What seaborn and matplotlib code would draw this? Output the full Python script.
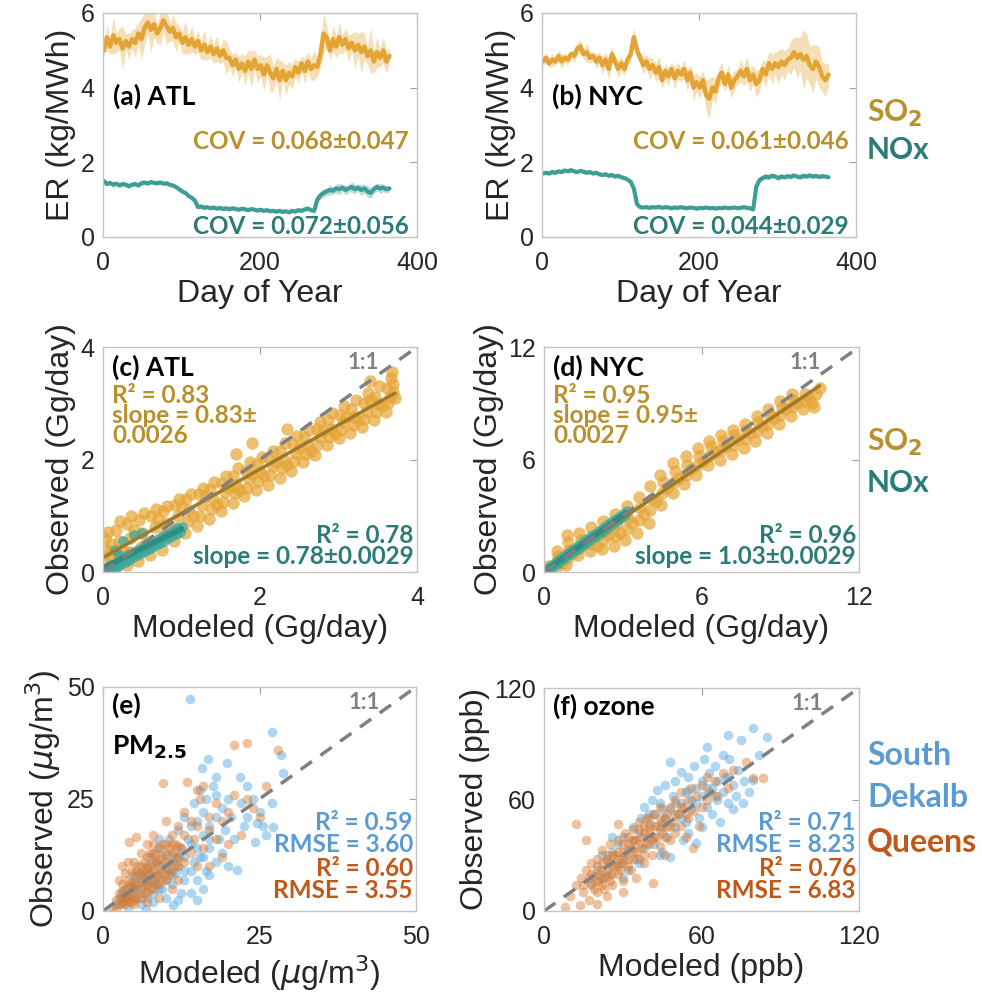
import numpy as np
import pandas as pd
import matplotlib
matplotlib.use("Agg")
import matplotlib.pyplot as plt
import seaborn as sns

# ---------------- data ----------------
atl_so2 = [5.00,5.35,5.10,5.40,5.20,5.30,5.05,5.25,5.10,5.30,
           5.20,5.45,5.30,5.60,5.75,5.55,5.70,5.45,5.60,5.80,
           5.65,5.50,5.60,5.35,5.45,5.20,5.35,5.15,5.30,5.10,
           5.25,5.00,5.15,4.95,5.10,4.90,5.05,4.85,5.00,4.80,
           4.80,4.60,4.75,4.50,4.65,4.45,4.70,4.50,4.75,4.50,
           4.60,4.35,4.60,4.40,4.25,4.50,4.20,4.45,4.20,4.40,
           4.30,4.55,4.40,4.65,4.45,4.70,4.50,4.60,4.55,4.90,
           5.45,5.35,5.00,5.30,5.10,5.35,5.15,5.30,5.05,5.20,
           5.00,5.15,4.95,5.10,4.85,5.00,4.70,4.95,4.80,5.00,
           4.70,4.85]
atl_so2_spread = [0.15,0.35,0.20,0.50,0.25,0.30,0.60,0.20,0.35,0.25,
                  0.40,0.30,0.55,0.45,0.30,0.60,0.35,0.25,0.45,0.30,
                  0.50,0.25,0.35,0.40,0.20,0.30,0.45,0.25,0.35,0.20,
                  0.30,0.25,0.40,0.20,0.30,0.25,0.35,0.20,0.30,0.45,
                  0.25,0.30,0.20,0.35,0.25,0.40,0.30,0.50,0.25,0.35,
                  0.30,0.45,0.25,0.50,0.35,0.30,0.55,0.25,0.40,0.30,
                  0.35,0.25,0.30,0.20,0.35,0.25,0.30,0.40,0.25,0.35,
                  0.55,0.30,0.25,0.35,0.30,0.40,0.25,0.30,0.35,0.25,
                  0.50,0.30,0.55,0.35,0.25,0.60,0.30,0.40,0.25,0.35,
                  0.30,0.20]
atl_nox = [1.50,1.42,1.45,1.40,1.43,1.38,1.42,1.40,1.36,1.40,
           1.42,1.38,1.44,1.46,1.43,1.47,1.45,1.44,1.46,1.43,
           1.44,1.40,1.38,1.34,1.28,1.22,1.18,1.10,1.05,0.98,
           0.80,0.82,0.78,0.80,0.77,0.79,0.76,0.78,0.75,0.77,
           0.74,0.77,0.75,0.73,0.76,0.74,0.72,0.75,0.73,0.71,
           0.73,0.70,0.72,0.69,0.70,0.68,0.70,0.67,0.69,0.66,
           0.70,0.68,0.72,0.70,0.74,0.76,0.72,0.70,1.00,1.12,
           1.18,1.22,1.26,1.24,1.30,1.28,1.32,1.26,1.30,1.34,
           1.28,1.32,1.26,1.30,1.22,1.18,1.28,1.34,1.30,1.32,
           1.28,1.30]
atl_nox_spread = [0.04,0.05,0.04,0.06,0.04,0.05,0.04,0.05,0.06,0.04,
                  0.05,0.04,0.06,0.05,0.04,0.05,0.04,0.06,0.05,0.04,
                  0.05,0.04,0.05,0.06,0.05,0.06,0.05,0.06,0.07,0.06,
                  0.04,0.05,0.04,0.04,0.05,0.04,0.04,0.05,0.04,0.04,
                  0.04,0.05,0.04,0.04,0.05,0.04,0.04,0.05,0.04,0.04,
                  0.04,0.05,0.04,0.04,0.05,0.04,0.04,0.05,0.04,0.04,
                  0.04,0.05,0.04,0.05,0.04,0.05,0.04,0.05,0.08,0.10,
                  0.12,0.10,0.14,0.10,0.12,0.15,0.10,0.13,0.10,0.14,
                  0.12,0.10,0.15,0.12,0.16,0.14,0.12,0.10,0.13,0.11,
                  0.10,0.08]
nyc_so2 = [4.70,4.80,4.65,4.75,4.70,4.85,4.70,4.80,4.75,4.90,
           4.85,5.05,5.10,4.90,4.95,4.80,4.85,4.70,4.80,4.60,
           4.75,4.50,4.90,4.70,4.50,4.65,4.50,4.75,4.90,5.35,
           5.00,4.80,4.60,4.70,4.50,4.60,4.40,4.55,4.20,4.45,
           4.30,4.50,4.25,4.45,4.35,4.50,4.20,4.40,4.00,4.15,
           4.00,4.20,3.80,3.70,4.00,3.90,4.25,4.40,4.10,4.35,
           4.00,4.20,4.30,4.45,4.30,4.50,4.20,4.35,4.10,4.20,
           4.50,4.35,4.65,4.50,4.65,4.55,4.70,4.60,4.75,4.80,
           4.95,4.80,4.90,4.75,4.85,4.60,4.50,4.70,4.55,4.30,
           4.20,4.35]
nyc_so2_spread = [0.10,0.15,0.12,0.18,0.10,0.15,0.20,0.12,0.15,0.10,
                  0.18,0.15,0.20,0.12,0.25,0.15,0.12,0.20,0.15,0.25,
                  0.18,0.30,0.20,0.15,0.25,0.20,0.18,0.15,0.22,0.25,
                  0.20,0.15,0.25,0.18,0.30,0.20,0.25,0.30,0.22,0.20,
                  0.25,0.18,0.30,0.22,0.20,0.25,0.30,0.20,0.35,0.25,
                  0.30,0.25,0.40,0.55,0.30,0.35,0.25,0.30,0.20,0.25,
                  0.30,0.25,0.20,0.30,0.25,0.35,0.30,0.25,0.35,0.30,
                  0.25,0.35,0.30,0.40,0.30,0.45,0.35,0.40,0.30,0.45,
                  0.40,0.55,0.45,0.80,0.60,0.50,0.65,0.45,0.55,0.40,
                  0.45,0.30]
nyc_nox = [1.70,1.72,1.70,1.74,1.72,1.76,1.74,1.78,1.76,1.79,
           1.76,1.74,1.77,1.75,1.72,1.74,1.70,1.72,1.68,1.66,
           1.68,1.64,1.66,1.62,1.64,1.60,1.58,1.54,1.48,1.30,
           0.88,0.80,0.79,0.80,0.78,0.80,0.79,0.81,0.78,0.80,
           0.79,0.77,0.79,0.78,0.80,0.78,0.77,0.79,0.78,0.76,
           0.78,0.77,0.79,0.77,0.78,0.76,0.78,0.77,0.79,0.77,
           0.78,0.79,0.77,0.78,0.80,0.78,0.77,0.74,1.35,1.52,
           1.58,1.62,1.60,1.64,1.62,1.58,1.62,1.60,1.63,1.61,
           1.65,1.62,1.60,1.64,1.62,1.65,1.62,1.64,1.61,1.63,
           1.62,1.60]
nyc_nox_spread = [0.04,0.05,0.04,0.04,0.05,0.04,0.05,0.04,0.05,0.04,
                  0.04,0.05,0.04,0.05,0.04,0.04,0.05,0.04,0.05,0.04,
                  0.04,0.05,0.04,0.05,0.04,0.05,0.04,0.05,0.06,0.08,
                  0.04,0.03,0.03,0.03,0.03,0.03,0.03,0.03,0.03,0.03,
                  0.03,0.03,0.03,0.03,0.03,0.03,0.03,0.03,0.03,0.03,
                  0.03,0.03,0.03,0.03,0.03,0.03,0.03,0.03,0.03,0.03,
                  0.03,0.03,0.03,0.03,0.03,0.03,0.03,0.04,0.08,0.07,
                  0.06,0.08,0.06,0.07,0.05,0.07,0.06,0.05,0.07,0.06,
                  0.05,0.06,0.05,0.07,0.05,0.06,0.05,0.06,0.05,0.06,
                  0.05,0.04]

# panel (c) ATL daily emissions (modeled, observed), Gg/day
atl_so2_pts = [(0.02,0.02),(0.03,0.2),(0.05,0.4),(0.02,0.6),(0.06,0.72),(0.1,0.1),(0.1,0.5),
    (0.15,0.08),(0.18,0.3),(0.2,0.55),(0.16,0.75),(0.22,0.9),
    (0.3,0.12),(0.33,0.35),(0.35,0.6),(0.31,0.85),(0.36,1.0),
    (0.45,0.2),(0.48,0.45),(0.5,0.7),(0.46,0.92),(0.52,1.05),
    (0.6,0.3),(0.63,0.55),(0.66,0.8),(0.61,1.0),(0.67,1.12),
    (0.75,0.4),(0.78,0.65),(0.8,0.88),(0.76,1.08),(0.82,1.18),
    (0.9,0.55),(0.93,0.78),(0.96,1.0),(0.92,1.2),(0.97,1.3),
    (1.05,0.7),(1.08,0.9),(1.1,1.1),(1.06,1.3),(1.12,1.38),
    (1.2,0.82),(1.23,1.0),(1.26,1.2),(1.22,1.38),(1.27,1.5),
    (1.35,0.95),(1.38,1.12),(1.4,1.3),(1.36,1.48),(1.42,1.6),
    (1.5,1.08),(1.53,1.25),(1.56,1.42),(1.52,1.58),(1.57,1.7),
    (1.65,1.22),(1.68,1.4),(1.7,1.55),(1.66,1.7),(1.72,1.85),
    (1.8,1.35),(1.83,1.5),(1.86,1.65),(1.82,1.8),(1.87,1.95),
    (1.95,1.45),(1.98,1.62),(2.0,1.78),(1.96,1.92),(2.02,2.05),
    (2.1,1.55),(2.13,1.72),(2.16,1.88),(2.12,2.02),(2.17,2.15),
    (2.25,1.68),(2.28,1.85),(2.3,2.0),(2.26,2.15),(2.32,2.3),
    (2.4,1.8),(2.43,1.98),(2.46,2.12),(2.42,2.28),(2.47,2.42),
    (2.55,1.95),(2.58,2.1),(2.6,2.25),(2.56,2.4),(2.62,2.52),
    (2.7,2.08),(2.73,2.25),(2.76,2.4),(2.72,2.55),(2.77,2.66),
    (2.85,2.25),(2.88,2.4),(2.9,2.55),(2.86,2.7),(2.92,2.82),
    (3.0,2.38),(3.03,2.52),(3.06,2.66),(3.02,2.8),(3.07,2.95),
    (3.15,2.48),(3.18,2.62),(3.2,2.76),(3.16,2.9),(3.22,3.05),
    (3.3,2.58),(3.33,2.72),(3.36,2.86),(3.32,3.0),(3.37,3.18),
    (3.45,2.7),(3.48,2.85),(3.5,2.98),(3.46,3.12),(3.52,3.3),
    (3.6,2.85),(3.63,3.0),(3.66,3.12),(3.62,3.28),(3.67,3.45),
    (3.72,3.1),(3.7,3.35),(3.68,3.55),(1.9,2.3),(1.7,2.1),(2.35,2.55),(3.4,3.4),
    (0.08,0.3),(0.25,0.4),(0.4,0.75),(0.55,0.5),(0.7,0.95),(0.85,0.7),(1.0,1.15),
    (1.15,1.0),(1.3,1.35),(1.45,1.2),(1.6,1.5),(1.75,1.45),(1.9,1.75),(2.05,1.7),
    (2.2,1.95),(2.35,1.9),(2.5,2.2),(2.65,2.15),(2.8,2.5),(2.95,2.45),(3.1,2.75),
    (3.25,2.7),(3.4,3.05),(3.55,2.95),(3.7,3.2)]
atl_nox_pts = [(0.02,0.02),(0.05,0.08),(0.08,0.03),(0.1,0.12),(0.12,0.06),(0.15,0.15),
    (0.18,0.1),(0.2,0.2),(0.22,0.13),(0.25,0.25),(0.28,0.18),(0.3,0.28),(0.33,0.22),
    (0.35,0.32),(0.38,0.26),(0.4,0.35),(0.43,0.3),(0.45,0.4),(0.48,0.33),(0.5,0.43),
    (0.53,0.37),(0.55,0.47),(0.58,0.41),(0.6,0.5),(0.63,0.45),(0.65,0.54),(0.68,0.48),
    (0.7,0.58),(0.73,0.52),(0.75,0.62),(0.78,0.56),(0.8,0.66),(0.83,0.6),(0.85,0.7),
    (0.88,0.64),(0.9,0.74),(0.93,0.68),(0.95,0.78),(0.98,0.72),(1.0,0.8),
    (0.15,0.4),(0.25,0.55),(0.4,0.65),(0.5,0.7),(0.2,0.3)]
# panel (d) NYC
nyc_so2_pts = [(0.1,0.05),(0.15,0.3),(0.2,0.15),
    (0.45,0.2),(0.5,0.55),(0.55,0.85),(0.5,1.1),
    (0.85,0.35),(0.9,0.75),(0.95,1.2),(0.9,1.6),(0.88,2.0),
    (1.3,0.9),(1.35,1.3),(1.4,1.7),(1.35,2.1),
    (1.75,1.1),(1.8,1.5),(1.85,1.9),(1.8,2.4),
    (2.2,1.25),(2.25,1.7),(2.3,2.2),(2.25,2.7),
    (2.65,1.4),(2.7,1.9),(2.75,2.5),(2.7,3.1),
    (3.1,1.7),(3.15,2.3),(3.2,2.9),(3.15,3.5),
    (3.55,2.1),(3.6,2.8),(3.65,3.4),(3.6,4.0),
    (4.0,2.6),(4.05,3.3),(4.1,3.9),(4.05,4.6),
    (4.45,3.6),(4.5,4.2),(4.55,4.8),(4.4,5.2),
    (4.9,4.2),(4.95,4.8),(5.0,5.4),(4.9,5.8),
    (5.35,4.7),(5.4,5.2),(5.45,5.7),(5.4,6.2),
    (5.8,5.2),(5.85,5.7),(5.9,6.2),(5.85,6.6),
    (6.25,5.7),(6.3,6.2),(6.35,6.7),(6.3,7.0),
    (6.7,6.0),(6.75,6.5),(6.8,7.0),(6.75,7.3),
    (7.15,6.3),(7.2,6.8),(7.25,7.3),(7.2,7.6),
    (7.6,6.6),(7.65,7.1),(7.7,7.6),(7.65,7.9),
    (8.05,7.0),(8.1,7.5),(8.15,8.0),(8.1,8.3),
    (8.5,7.4),(8.55,7.9),(8.6,8.4),(8.55,8.7),
    (8.95,7.9),(9.0,8.4),(9.05,8.8),(9.0,9.1),
    (9.4,8.3),(9.45,8.8),(9.5,9.2),(9.45,9.5),
    (9.85,8.7),(9.9,9.1),(9.95,9.5),(10.2,9.0),
    (10.35,9.5),(10.5,9.8),(10.3,8.8),
    (0.7,0.5),(1.1,1.0),(1.55,1.6),(2.0,1.4),(2.45,2.0),(2.9,2.1),(3.35,2.6),
    (3.8,3.1),(4.25,3.8),(4.7,4.5),(5.15,5.0),(5.6,5.5),(6.05,5.9),(6.5,6.4),
    (6.95,6.7),(7.4,7.1),(7.85,7.4),(8.3,7.8),(8.75,8.2),(9.2,8.7),(9.65,9.0),(10.1,9.3)]
nyc_nox_pts = [(0.05,0.05),(0.15,0.2),(0.25,0.2),(0.3,0.4),(0.4,0.35),(0.45,0.55),
    (0.55,0.5),(0.6,0.7),(0.7,0.65),(0.75,0.85),(0.85,0.8),(0.9,1.0),(1.0,0.95),
    (1.05,1.15),(1.15,1.1),(1.2,1.3),(1.3,1.25),(1.35,1.45),(1.45,1.4),(1.5,1.6),
    (1.6,1.55),(1.65,1.75),(1.75,1.7),(1.8,1.9),(1.9,1.85),(1.95,2.05),(2.05,2.0),
    (2.1,2.2),(2.2,2.15),(2.25,2.35),(2.35,2.3),(2.4,2.5),(2.5,2.45),(2.55,2.65),
    (2.65,2.6),(2.7,2.8),(2.8,2.75),(2.85,2.95),(2.95,2.9),(3.0,3.1),(3.1,3.05),(3.15,3.25)]
# panel (e) PM2.5 (modeled, observed), ug/m3
sdk_pm_pts = [(2,1.5),(2.5,3),(3,2),(3,4.5),(3.5,3.5),(4,1),(4,5),(4.5,6.5),(5,3),(5,7.5),
    (5.5,5),(5.5,9),(6,4),(6,6.5),(6.5,8),(6.8,0.5),(7,5.5),(7,10),(7.5,7),(7.5,12),
    (8,4),(8,9),(8.5,6),(8.5,11),(9,8),(9,14),(9.5,5),(9.5,10),(10,7),(10,12.5),
    (10.5,9),(10.5,16),(11,6),(11,11),(11.2,1.3),(11.5,13),(11.5,8.5),(12,10),(12,18),
    (12.5,4),(12.5,14),(13,7),(13,12),(13,21),(13.5,16),(13.9,47.3),(14,9),(14,19),
    (14.5,11),(14.5,24),(15,2.5),(15,14),(15,20),(15.5,12),(15.5,27),(15.8,32),(16,17),
    (16,22),(16.5,9),(16.5,25),(16.8,34),(17,14),(17,19),(17.5,28),(18,11),(18,21),
    (18,26),(18.5,16),(19,23),(19,13),(19.5,18),(19.8,33),(20,25),(20,10),(20.5,21),
    (21,16),(21.4,9.2),(21.9,30),(22,24),(22.5,19),(23,28),(23,21),(24,25),(24.3,15.4),
    (24.6,19.6),(25,22),(25.5,19),(27,24),(27,40),(27.2,18.8),(28.5,34.8),(28.8,30.8),
    (26,17),(18,30),(17,8),(14,4),(10,3),(8,2),(6,1.5),(9,16),(12,2.5),(16,5),
    (3,3),(4,3),(5,5.5),(6,8),(7,3),(8,6.5),(9,5),(10,9.5),(11,8),(12,12),(13,9),
    (14,15),(15,7),(16,12),(17,16)]
qns_pm_pts = [(1.5,1),(2,2.5),(2,0.5),(2.5,4),(3,1.5),(3,3),(3,6),(3.5,2.5),(3.5,5),(4,3.5),
    (4,7),(4.1,15.4),(4.5,2),(4.5,5.5),(4.5,9),(5,4),(5,6.5),(5,11),(5.3,16.5),(5.5,3),
    (5.5,8),(6,5),(6,7),(6,10),(6,13),(6.5,4),(6.5,9),(7,6),(7,8),(7,12),(7,15),(7.5,5),
    (7.5,10),(8,7),(8,9),(8,13),(8,17),(8.5,6),(8.5,11),(9,8),(9,10),(9,14),(9.6,28.5),
    (9.5,7),(9.5,12),(10,9),(10,15),(10,20),(10.5,11),(10.5,8),(11,13),(11,17),(11.5,10),
    (11.5,15),(12,12),(12,19),(12,7),(12.5,14),(13,11),(13,17),(13,22),(13.4,28.8),(14,13),
    (14,20),(14.5,16),(15,10),(15,19),(15.5,25),(16,14),(16,28),(17,18),(17,21),(18,16),
    (18,24),(19,20),(19,12),(20,22),(21,37),(21,26),(22,17),(23,37.5),(23,25),(24,23),
    (25,21),(28,36),(26,28),(20,15),(17,10),(15,27),(11,5),(9,3),(7,2),(5,1.5),(3.5,8.5),(4,11),
    (2.5,1.5),(3,4),(3.5,1.5),(4,2.5),(4,5.5),(4.5,3.5),(5,2.5),(5,5),(5,8.5),(5.5,6),
    (5.5,10),(6,3),(6,8.5),(6.5,6),(6.5,11),(7,4),(7,7),(7,9.5),(7.5,8),(7.5,13),(8,5),
    (8,11),(8,15),(8.5,8),(8.5,13),(9,6),(9,11.5),(9.5,9),(9.5,15),(10,7),(10,11),(10,13),
    (10.5,14),(11,9),(11,15),(11.5,12),(12,10),(12,14.5),(3,10),(2.5,7)]
# panel (f) ozone (modeled, observed), ppb
sdk_o3_pts = [(18,15),(20,22),(22,18),(24,28),(25,20),(26,32),(28,24),(28,36),(30,28),(30,40),
    (32,33),(32,22),(34,38),(34,45),(35,28),(36,42),(37,50),(38,34),(38,56),(40,40),(40,47),
    (41,60),(42,36),(42,52),(43,65),(44,44),(44,58),(45,32),(46,50),(46,68),(47,40),(48,55),
    (48,80),(48,29),(49,62),(50,45),(50,70),(51,52),(52,58),(52,75),(53,38),(54,64),(54,48),
    (55,72),(56,55),(56,60),(57,78),(58,66),(58,36.6),(59,50),(60,70),(60,62),(61,82),(62,56),
    (62,88),(63,74),(64,66),(64,52),(65,78),(66,60),(66,70),(67,48),(68,64),(68,84),(69,72),
    (70,58),(70,94.7),(70.5,82),(72,55),(72,68),(73,62),(74,76),(75,92),(75.8,58),(76,70),
    (78,64),(79.6,98.5),(79.6,70.5),(82,84),(85,93.6),(36,26),(30,18),(44,30),(55,42),
    (26,40),(22,30),(60,45),
    (40,52),(45,55),(50,58),(55,65),(58,58),(62,66),(65,62),(70,72),(45,48),(52,50)]
qns_o3_pts = [(8,2),(10,8),(12,14),(13.7,3),(14,18),(15,10),(16,22),(17,6),(18,14),(18,26),
    (19,19),(20,4),(20,10),(20,28),(21,16),(22,22),(22,33),(23,12),(24,19),(24,27),(25,36),
    (26,24),(26,14),(27,30),(28,20),(28,38),(29,26),(30,32),(30,16),(31,42),(32,28),(32,36),
    (33,22),(34,32),(34,44),(35,38),(36,28),(36,48),(37,34),(38,42),(38,26),(39,50),(40,36),
    (40,45),(41,30),(42,40),(42,52),(43,46),(44,35),(44,56),(45,42),(46,50),(46,30),(47,45),
    (48,56),(48,38),(49,48),(50,60),(50,42),(51,52),(52,46),(52,64),(53,56),(54,40),(55,60),
    (55,50),(56,66),(57,54),(58,62),(59,46),(60,68),(60,56),(62,72),(62,60),(63,64),(65,70),
    (66,62),(68,74),(70,66),(72,76),(77,80),(79.7,71.6),(83.5,71.6),(41.7,15),(56.9,34),
    (12,47),(16,38),(28,47),(24,8),(35,18),(30,10),
    (15,14),(17,18),(18,20),(19,12),(20,16),(20,24),(21,20),(22,14),(22,26),(23,18),(24,22),
    (24,30),(25,16),(25,26),(26,20),(26,30),(27,24),(28,28),(28,32),(29,22),(30,26),(30,36),
    (31,30),(32,24),(32,40),(33,34),(34,28),(34,38),(35,32),(36,36),(36,44),(37,40),(38,30),
    (38,46),(39,36),(40,42),(40,50),(41,38),(42,46),(43,40),(44,50),(45,46),(46,40),(47,52),
    (48,46),(50,52),(52,56),(54,52)]

# ---------------- style ----------------
sns.set_theme(style="white")
plt.rcParams['font.family'] = ['Liberation Sans', 'DejaVu Sans']
plt.rcParams['mathtext.fontset'] = 'dejavusans'

C_SO2_LINE = '#E4A433'
C_SO2_TXT = '#B8902C'
C_SO2_FIT = '#A07A28'
C_NOX_LINE = '#3E9E96'
C_NOX_TXT = '#2B7C76'
C_BLUE_PT = '#5FAEE3'
C_BLUE_TXT = '#5B9BD0'
C_ORG_PT = '#D9782E'
C_ORG_TXT = '#C0581A'
GRAY = '#808080'
BF = dict(family='Lato', weight='bold')

W, H = 982, 1005
fig = plt.figure(figsize=(W/100, H/100), dpi=100)

def box(l, t, r, b):
    return fig.add_axes([l/W, 1-b/H, (r-l)/W, (b-t)/H])

ax_a = box(103, 13, 417, 237)
ax_b = box(542, 13, 856, 237)
ax_c = box(103, 347, 417, 572)
ax_d = box(544, 347, 859, 572)
ax_e = box(103, 687, 416, 911)
ax_f = box(544, 688, 859, 911)

def style(ax, xlim, ylim, ticks, xlabel, ylabel):
    ax.set_xlim(xlim)
    ax.set_ylim(ylim)
    ax.set_xticks(ticks[0]); ax.set_yticks(ticks[1])
    for s in ax.spines.values():
        s.set_color('#C4C4C4'); s.set_linewidth(1.0)
    ax.tick_params(direction='in', length=5, width=0.8, color='#A0A0A0',
                   top=True, right=True, labelsize=18, labelcolor='#262626')
    ax.tick_params(axis='x', pad=10)
    ax.tick_params(axis='y', pad=6)
    ax.set_xlabel(xlabel, fontsize=23, color='#262626', labelpad=3)
    ax.set_ylabel(ylabel, fontsize=23, color='#262626', labelpad=3)

ANN = 17.5

# ---------------- time series ----------------
for ax, so2, so2s, nox, noxs, lab, cov1, cov2 in [
        (ax_a, atl_so2, atl_so2_spread, atl_nox, atl_nox_spread, '(a) ATL',
         'COV = 0.068±0.047', 'COV = 0.072±0.056'),
        (ax_b, nyc_so2, nyc_so2_spread, nyc_nox, nyc_nox_spread, '(b) NYC',
         'COV = 0.061±0.046', 'COV = 0.044±0.029')]:
    days = np.linspace(1, 365, len(so2))
    s = np.array(so2); sp = np.array(so2s)
    n = np.array(nox); nps = np.array(noxs)
    ax.fill_between(days, s - sp, s + sp, color=C_SO2_LINE, alpha=0.35, lw=0)
    ax.fill_between(days, n - nps, n + nps, color=C_NOX_LINE, alpha=0.35, lw=0)
    sns.lineplot(x=days, y=s, ax=ax, color=C_SO2_LINE, lw=3.2)
    sns.lineplot(x=days, y=n, ax=ax, color=C_NOX_LINE, lw=3.0)
    style(ax, (0, 400), (0, 6), ([0, 200, 400], [0, 2, 4, 6]), 'Day of Year', 'ER (kg/MWh)')
    ax.text(0.033, 0.63, lab, transform=ax.transAxes, fontsize=19, color='black',
            va='center', ha='left', **BF)
    ax.text(0.975, 0.428, cov1, transform=ax.transAxes, fontsize=ANN, color=C_SO2_TXT,
            va='center', ha='right', **BF)
    ax.text(0.975, 0.045, cov2, transform=ax.transAxes, fontsize=ANN, color=C_NOX_TXT,
            va='center', ha='right', **BF)

# ---------------- emissions scatter ----------------
def scat(ax, pts, color, alpha, s=40):
    df = pd.DataFrame(pts, columns=['mod', 'obs'])
    sns.scatterplot(data=df, x='mod', y='obs', ax=ax, color=color, alpha=alpha,
                    s=s, linewidth=0, legend=False)
    return df

for ax, so2p, noxp, lim, ticks, lab, t1, t2 in [
        (ax_c, atl_so2_pts, atl_nox_pts, (0, 4), [0, 2, 4], '(c) ATL',
         'R² = 0.83\nslope = 0.83±\n0.0026', 'R² = 0.78\nslope = 0.78±0.0029'),
        (ax_d, nyc_so2_pts, nyc_nox_pts, (0, 12), [0, 6, 12], '(d) NYC',
         'R² = 0.95\nslope = 0.95±\n0.0027', 'R² = 0.96\nslope = 1.03±0.0029')]:
    d1 = scat(ax, so2p, '#E6A535', 0.7, 80)
    d2 = scat(ax, noxp, '#36A89C', 0.7, 60)
    sns.regplot(data=d1, x='mod', y='obs', ax=ax, scatter=False, ci=None,
                line_kws=dict(color=C_SO2_FIT, lw=2.5))
    sns.regplot(data=d2, x='mod', y='obs', ax=ax, scatter=False, ci=None,
                line_kws=dict(color='#2F8C85', lw=4))
    ax.axline((0, 0), slope=1, color=GRAY, lw=2.5, ls=(0, (4, 3)))
    style(ax, lim, lim, (ticks, ticks), 'Modeled (Gg/day)', 'Observed (Gg/day)')
    ax.text(0.03, 0.91, lab, transform=ax.transAxes, fontsize=19, color='black',
            va='center', ha='left', **BF)
    ax.text(0.88, 0.93, '1:1', transform=ax.transAxes, fontsize=16, color=GRAY,
            va='center', ha='right', **BF)
    ax.text(0.03, 0.835, t1, transform=ax.transAxes, fontsize=ANN, color=C_SO2_TXT,
            va='top', ha='left', linespacing=0.85, **BF)
    ax.text(0.99, 0.02, t2, transform=ax.transAxes, fontsize=ANN, color=C_NOX_TXT,
            va='bottom', ha='right', linespacing=0.85, **BF)

# ---------------- air quality scatter ----------------
for ax, bp, op, lim, ticks, lab, unit, texts in [
        (ax_e, sdk_pm_pts, qns_pm_pts, (0, 50), [0, 25, 50], '(e)', r'($\mu$g/m$^3$)',
         ['R² = 0.59', 'RMSE = 3.60', 'R² = 0.60', 'RMSE = 3.55']),
        (ax_f, sdk_o3_pts, qns_o3_pts, (0, 120), [0, 60, 120], '(f) ozone', '(ppb)',
         ['R² = 0.71', 'RMSE = 8.23', 'R² = 0.76', 'RMSE = 6.83'])]:
    scat(ax, bp, C_BLUE_PT, 0.5, 48)
    scat(ax, op, C_ORG_PT, 0.45, 48)
    ax.axline((0, 0), slope=1, color=GRAY, lw=2.5, ls=(0, (4, 3)))
    style(ax, lim, lim, (ticks, ticks), 'Modeled ' + unit, 'Observed ' + unit)
    ax.text(0.03, 0.92, lab, transform=ax.transAxes, fontsize=19, color='black',
            va='center', ha='left', **BF)
    ax.text(0.885, 0.93, '1:1', transform=ax.transAxes, fontsize=16, color=GRAY,
            va='center', ha='right', **BF)
    ys = [0.395, 0.296, 0.19, 0.09]
    cols = [C_BLUE_TXT, C_BLUE_TXT, C_ORG_TXT, C_ORG_TXT]
    for tx, yy, cc in zip(texts, ys, cols):
        ax.text(0.99, yy, tx, transform=ax.transAxes, fontsize=ANN, color=cc,
                va='center', ha='right', **BF)
ax_e.text(0.03, 0.73, r'PM$_{\mathbf{2.5}}$', transform=ax_e.transAxes, fontsize=19,
          color='black', va='center', ha='left', **BF)

# ---------------- side legends ----------------
def ftext(x, y, s, c, fs):
    fig.text(x/W, 1-y/H, s, color=c, fontsize=fs, va='center', ha='left', **BF)

ftext(867, 113, r'SO$_{\mathbf{2}}$', C_SO2_TXT, 21.5)
ftext(867, 150, 'NOx', C_NOX_TXT, 21.5)
ftext(867, 442, r'SO$_{\mathbf{2}}$', C_SO2_TXT, 21.5)
ftext(867, 483, 'NOx', C_NOX_TXT, 21.5)
ftext(867, 755, 'South', C_BLUE_TXT, 23)
ftext(867, 797, 'Dekalb', C_BLUE_TXT, 23)
ftext(867, 842, 'Queens', C_ORG_TXT, 23)

fig.savefig('out.png', dpi=100)
